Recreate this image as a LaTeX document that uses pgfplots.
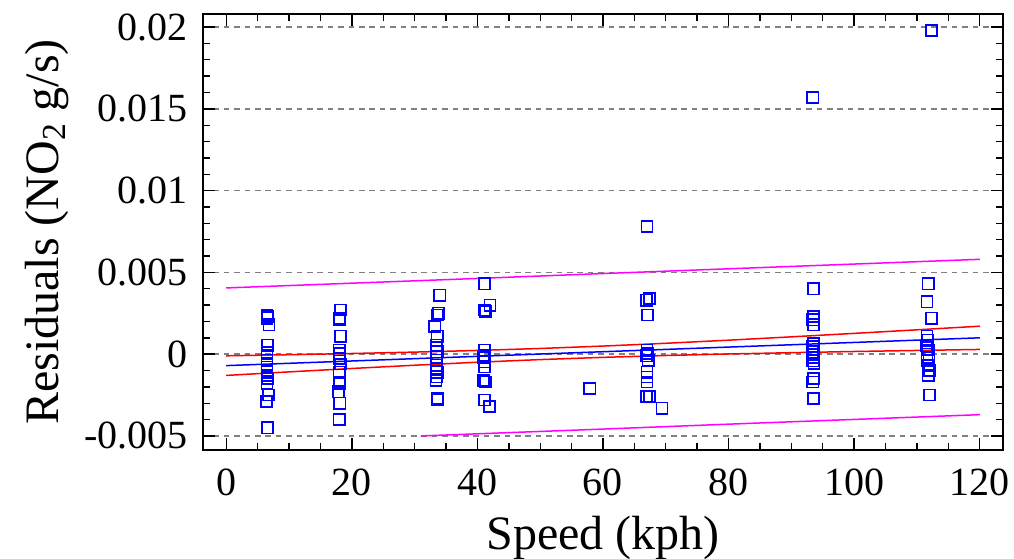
\documentclass[border=0pt]{standalone}
\usepackage{pgfplots}
\pgfplotsset{compat=1.18}
\usepackage{fontspec}
\setmainfont{Liberation Serif}
\setsansfont{Liberation Serif}
\definecolor{pblue}{RGB}{0,0,255}
\definecolor{pred}{RGB}{255,0,0}
\definecolor{pmag}{RGB}{255,0,255}
\begin{document}
\begin{tikzpicture}[font=\rmfamily]
\begin{axis}[
  scale only axis, width=400pt, height=218pt,
  xmin=-3.7, xmax=123.7, ymin=-0.00586, ymax=0.0208,
  scaled y ticks=false, scaled x ticks=false,
  xtick={0,20,40,60,80,100,120},
  xticklabels={0,20,40,60,80,100,120},
  minor x tick num=3,
  ytick={-0.005,0,0.005,0.01,0.015,0.02},
  yticklabels={-0.005,0,0.005,0.01,0.015,0.02},
  minor y tick num=4,
  tick align=inside,
  major tick length=6pt, minor tick length=3.5pt,
  every tick/.style={black, line width=0.7pt},
  axis line style={black, line width=1pt},
  ymajorgrids,
  grid style={gray, line width=0.7pt, dash pattern=on 2.8pt off 2.4pt},
  ticklabel style={font=\rmfamily\fontsize{20}{24}\selectfont},
  xticklabel style={yshift=-6pt},
  yticklabel style={xshift=-4pt},
  xlabel={Speed (kph)},
  ylabel={Residuals (NO\textsubscript{2} g/s)},
  label style={font=\rmfamily\fontsize{24}{28}\selectfont},
  xlabel style={at={(axis description cs:0.5,0)}, anchor=center, yshift=-44pt},
  ylabel style={at={(axis description cs:0,0.5)}, anchor=center, rotate=0, yshift=78pt},
  clip=true,
]
% prediction limits
\addplot[pmag, line width=0.75pt] coordinates {
 (0,0.00405) (20,0.00434) (40,0.00463) (60,0.00493) (80,0.00522) (100,0.00551) (120,0.00580)};
\addplot[pmag, line width=0.75pt] coordinates {
 (31,-0.00500) (40,-0.00487) (60,-0.00458) (80,-0.00428) (100,-0.00399) (120,-0.00370)};
% confidence limits
\addplot[pred, line width=0.75pt] coordinates {
 (0,-0.000100) (10,-0.000033) (20,0.000041) (30,0.000126) (40,0.000227) (50,0.000348)
 (60,0.000495) (70,0.000666) (80,0.000855) (90,0.001059) (100,0.001271) (110,0.001489) (120,0.001711)};
\addplot[pred, line width=0.75pt] coordinates {
 (0,-0.001300) (10,-0.001083) (20,-0.000875) (30,-0.000676) (40,-0.000493) (50,-0.000332)
 (60,-0.000195) (70,-0.000082) (80,0.000011) (90,0.000091) (100,0.000163) (110,0.000227) (120,0.000289)};
% fitted line
\addplot[pblue, line width=0.75pt] coordinates {(0,-0.0007) (120,0.0010)};
% residuals
\addplot[only marks, mark=square, mark size=2.8pt, pblue, mark options={line width=0.8pt}] coordinates {
 (6.5,0.0024) (6.6,0.0023) (6.5,0.0022) (6.8,0.0018) (6.6,0.00055) (6.5,0.0001) (6.5,-0.0001)
 (6.5,-0.00037) (6.5,-0.00067) (6.5,-0.001) (6.5,-0.0013) (6.6,-0.0015) (6.5,-0.0018)
 (6.7,-0.0025) (6.4,-0.0029) (6.6,-0.0045)
 (18.2,0.0027) (18.0,0.0022) (18.1,0.0021) (18.2,0.0011) (18.0,0.00025) (18.1,0.00004)
 (18.0,-0.00026) (18.2,-0.0006) (18.0,-0.0011) (18.1,-0.0017) (18.0,-0.0018) (17.9,-0.0023)
 (18.1,-0.003) (18.0,-0.004)
 (34.0,0.0036) (33.8,0.0025) (33.6,0.0024) (33.2,0.0017) (33.6,0.0011) (33.5,0.00055)
 (33.6,0.00014) (33.4,-0.00016) (33.5,-0.00037) (33.4,-0.00067) (33.5,-0.00087) (33.6,-0.0011)
 (33.5,-0.0014) (33.4,-0.0016) (33.6,-0.0027) (33.7,-0.0028)
 (41.1,0.0043) (42.0,0.003) (41.1,0.0027) (41.3,0.0026) (41.1,0.00025) (41.2,-0.0001)
 (41.0,-0.0002) (41.2,-0.00047) (41.1,-0.00077) (41.0,-0.0016) (41.3,-0.0017) (41.1,-0.0028)
 (41.9,-0.0032)
 (57.9,-0.0021)
 (67.0,0.0078) (67.4,0.0034) (66.9,0.0033) (67.1,0.0024) (67.0,0.00024) (67.1,0.00005)
 (66.9,-0.0001) (67.2,-0.00037) (67.0,-0.0011) (67.0,-0.0014) (67.0,-0.0017) (66.9,-0.0026)
 (67.4,-0.0026) (69.4,-0.0033)
 (93.4,0.0157) (93.5,0.0040) (93.5,0.0023) (93.4,0.0021) (93.5,0.0018) (93.5,0.00065)
 (93.4,0.00045) (93.3,0.00014) (93.6,0.0) (93.5,-0.0002) (93.4,-0.0004) (93.6,-0.00057)
 (93.5,-0.0015) (93.4,-0.0017) (93.5,-0.0027)
 (112.3,0.0198) (111.8,0.0043) (111.6,0.0032) (112.3,0.0022) (111.6,0.0011) (111.7,0.00086)
 (111.5,0.0005) (111.8,0.00025) (111.6,0.0) (111.9,-0.0002) (111.6,-0.0004) (111.8,-0.00067)
 (112.0,-0.001) (111.8,-0.0013) (112.0,-0.0025)
};
\end{axis}
\pgfresetboundingbox
\path ([shift={(-101.5pt,-54pt)}]current axis.south west) rectangle ([shift={(5.5pt,7pt)}]current axis.north east);
\end{tikzpicture}
\end{document}
